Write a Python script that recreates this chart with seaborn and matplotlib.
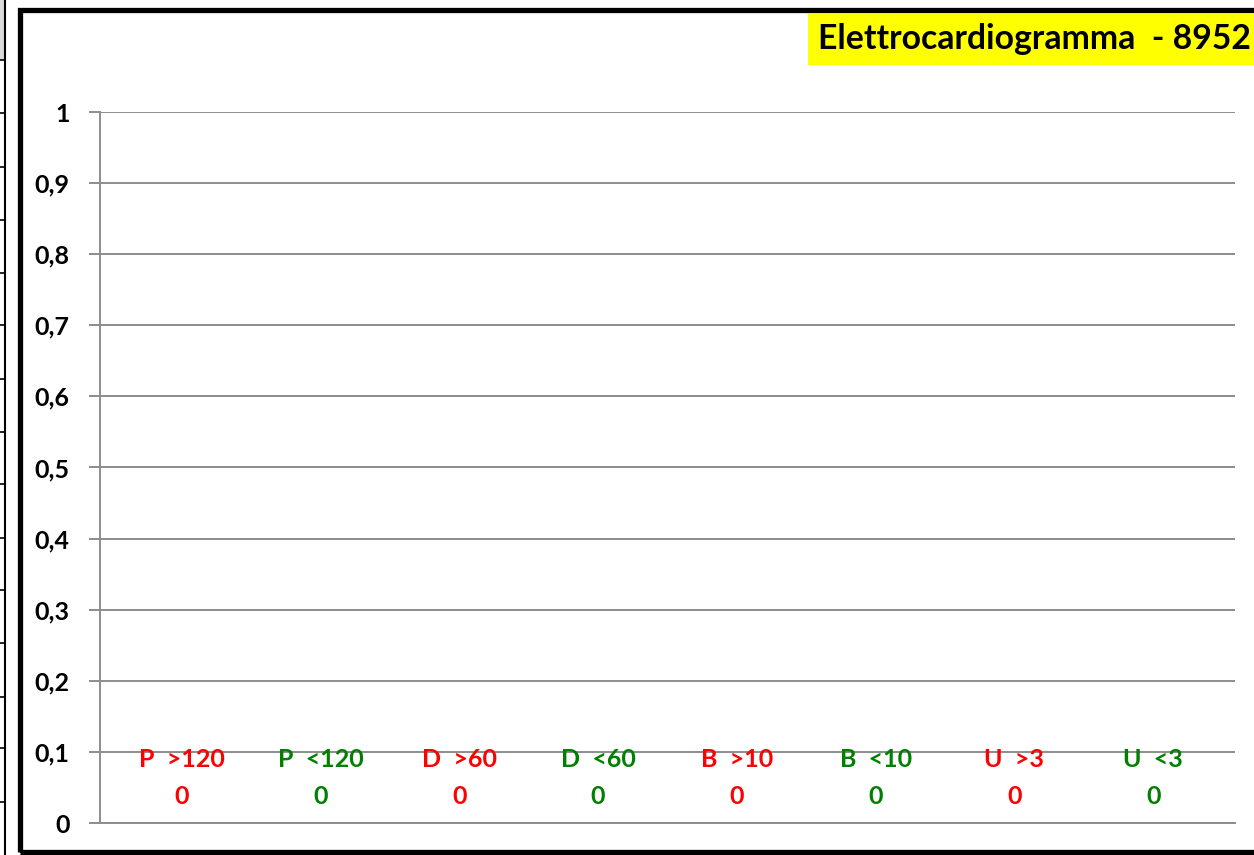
import matplotlib
matplotlib.use("Agg")
import matplotlib.pyplot as plt
from matplotlib.patches import Rectangle
from matplotlib.lines import Line2D
import seaborn as sns

# Test groups and their counts
categories = ["P  >120", "P  <120", "D  >60", "D  <60", "B  >10", "B  <10", "U  >3", "U  <3"]
values = [0, 0, 0, 0, 0, 0, 0, 0]
label_colors = ["#FF0000", "#008000", "#FF0000", "#008000", "#FF0000", "#008000", "#FF0000", "#008000"]
y_ticks = [0, 0.1, 0.2, 0.3, 0.4, 0.5, 0.6, 0.7, 0.8, 0.9, 1]
y_tick_labels = ["0", "0,1", "0,2", "0,3", "0,4", "0,5", "0,6", "0,7", "0,8", "0,9", "1"]
title = "Elettrocardiogramma  - 8952"

sns.set_theme(style="white")
plt.rcParams["font.family"] = ["Lato", "DejaVu Sans"]

W, H = 1254, 855
fig = plt.figure(figsize=(W / 100, H / 100), dpi=100)
fig.patch.set_facecolor("white")

# Spreadsheet cell edge visible at the far left
fig.add_artist(Rectangle((0, 1 - 60 / H), 4 / W, 60 / H, transform=fig.transFigure,
                         facecolor="#d9d9d9", edgecolor="none"))
fig.add_artist(Line2D([4.5 / W, 4.5 / W], [0, 1], transform=fig.transFigure,
                      color="black", lw=1.5))
for yp in [60, 113, 167, 220, 273, 325, 379, 432, 484, 538, 590, 643, 697, 748, 802]:
    fig.add_artist(Line2D([0, 4.5 / W], [1 - yp / H, 1 - yp / H], transform=fig.transFigure,
                          color="black", lw=1.2))

# Chart frame
fig.add_artist(Rectangle((19.5 / W, 1 - 852 / H), (W + 20) / W, (852 - 10.5) / H,
                         transform=fig.transFigure, facecolor="none",
                         edgecolor="black", lw=3.8, clip_on=False))

ax = fig.add_axes([100 / W, 1 - 823 / H, (1235 - 100) / W, (823 - 112) / H])
ax.set_facecolor("none")

sns.barplot(x=categories, y=values, color="white", ax=ax)

ax.set_xlim(-0.59, 7.59)
ax.set_ylim(0, 1)
ax.set_yticks(y_ticks)
ax.set_yticklabels(y_tick_labels, fontsize=18, fontweight="bold", color="black")
ax.set_xticks([])
ax.set_xlabel("")
ax.set_ylabel("")

grid_c = "#8c8c8c"
ax.yaxis.grid(True, color=grid_c, lw=1.4)
ax.set_axisbelow(True)
ax.tick_params(axis="y", length=8, width=1.4, color=grid_c, pad=14, left=True)
for side in ["top", "right"]:
    ax.spines[side].set_visible(False)
ax.spines["left"].set_color(grid_c)
ax.spines["left"].set_linewidth(1.4)
ax.spines["bottom"].set_color(grid_c)
ax.spines["bottom"].set_linewidth(1.4)

# Category name and value above each bar base
for i, (cat, val, col) in enumerate(zip(categories, values, label_colors)):
    ax.annotate(f"{val:g}", (i, val), xytext=(0, 19), textcoords="offset points",
                ha="center", va="center", fontsize=18, fontweight="bold", color=col)
    ax.annotate(cat, (i, val), xytext=(0, 45.5), textcoords="offset points",
                ha="center", va="center", fontsize=18, fontweight="bold", color=col)

# Title in a yellow box at the top right
fig.text(818 / W, 1 - 39 / H, title, ha="left", va="center", fontsize=24.3,
         fontweight="bold", color="black")
fig.add_artist(Rectangle((808 / W, 1 - 65 / H), (W - 808) / W, 51 / H,
                         transform=fig.transFigure, facecolor="#FFFF00",
                         edgecolor="none", zorder=0.5))

fig.savefig("out.png", dpi=100, facecolor="white")
